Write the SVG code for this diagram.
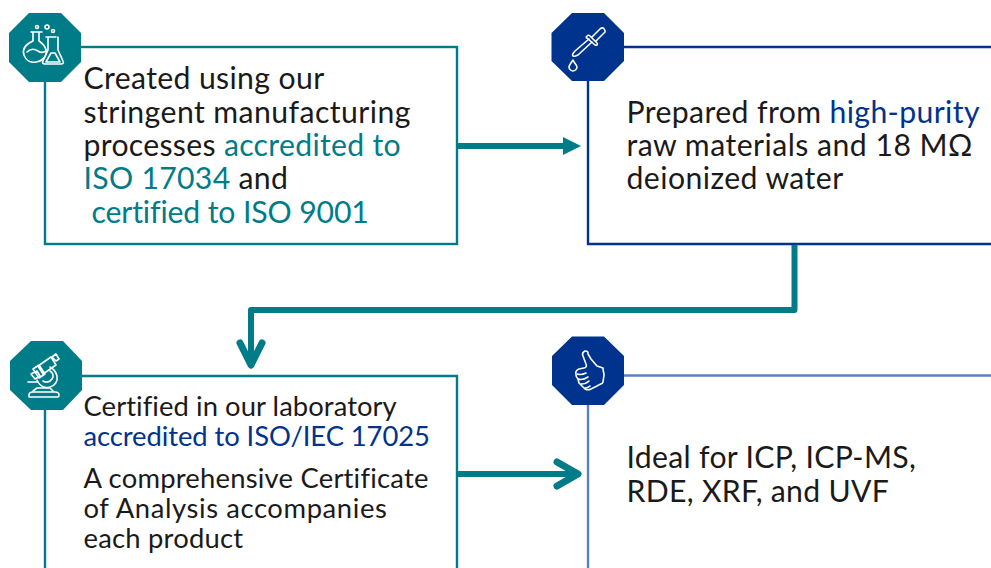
<svg xmlns="http://www.w3.org/2000/svg" width="991" height="568" viewBox="0 0 991 568">
<defs><style>
text{font-family:"Lato","Noto Sans",sans-serif;fill:#1a1a1a}
.big{font-size:30.2px;letter-spacing:.3px}
.mid{font-size:27.4px;letter-spacing:.22px}
.t{fill:#007c89}
.b{fill:#00338d}
.box{fill:#fff;stroke-width:2.4}
.ic{fill:none;stroke:#fff;stroke-width:1.6;stroke-linejoin:round;stroke-linecap:round}
.conn{fill:none;stroke:#007c89;stroke-width:6;stroke-linejoin:round}
.open{stroke-width:7;stroke-linecap:round}
</style></defs>
<rect width="991" height="568" fill="#fff"/>
<g id="node-manufacturing">
<rect class="box" x="45" y="47" width="412" height="197" stroke="#007c89"/>
<polygon points="29,13 61,13 81,33 81,62 61,82 29,82 9,62 9,33" fill="#007c89"/>
<g class="ic">
<path d="M31 32h11M33 32v9c-7 3-11 8-9 14 2 6 7 8 12 7 7-1 11-6 10-12-1-4-4-7-7-9V32"/>
<path d="M27 52c4-4 8-3 11-1s6 2 9-1"/>
<path d="M46 37h10M48 37v13l-5 11c-1 2 0 3 2 3h16c2 0 3-1 2-3l-5-11V37"/>
<path d="M46 62l5-9h4l5 9z"/>
<circle cx="37" cy="27" r="1.500"/><circle cx="47" cy="27" r="2"/><circle cx="53" cy="31" r="1.500"/>
</g>
<text class="big"><tspan x="83.500" y="88.700" style="letter-spacing:.36px">Created using our</tspan><tspan x="83.500" y="122.700" style="letter-spacing:.43px">stringent manufacturing</tspan><tspan x="83.500" y="155.700">processes <tspan class="t">accredited to</tspan></tspan><tspan x="83.500" y="188.700"><tspan class="t">ISO 17034</tspan> and</tspan><tspan x="91.500" y="222.700" class="t" style="letter-spacing:-.13px">certified to ISO 9001</tspan></text>
</g>
<g id="node-raw-materials">
<path class="box" d="M991 47H588V244H991" stroke="#00338d"/>
<polygon points="572,13 604,13 624,33 624,61 604,81 572,81 551.500,61 551.500,33" fill="#00338d"/>
<g class="ic">
<path d="M592 37l8-8c2-2 4-1 4 0 1 1 2 3 0 4l-8 8"/>
<path d="M587 36c1-1 2-1 3 0l7 7c1 1 0 3-2 2l-8-7c-1 0-1-1 0-2z"/>
<path d="M589 39l-14 12c-2 2-3 4-2 5 1 1 3 0 5-1l14-13"/>
<path d="M573 60c-2 3-4 5-4 7 0 2 2 4 4 4s4-2 4-4c0-2-3-4-4-7z"/>
</g>
<text class="big"><tspan x="626.500" y="122.700" style="letter-spacing:.38px">Prepared from <tspan class="b">high-purity</tspan></tspan><tspan x="626.500" y="155.700" style="letter-spacing:.47px">raw materials and 18 MΩ</tspan><tspan x="626.500" y="188.700" style="letter-spacing:.43px">deionized water</tspan></text>
</g>
<g id="node-laboratory">
<path class="box" d="M45 568V376H457V568" stroke="#007c89"/>
<polygon points="31,341 63,341 82,361 82,390 63,410 31,410 10,390 10,361" fill="#007c89"/>
<g class="ic">
<path d="M29 397h29c1 0 1-1 1-2 0-2-2-3-4-3H33c-2 0-4 1-4 3 0 1 0 2 0 2z"/>
<path d="M33 391l4-3h13l3 3"/>
<path d="M28 382h10c2 4 7 7 12 5 5-1 8-6 7-11-1-4-3-7-7-9"/>
<path d="M38 382c-1-1-1-1-1-2M43 381c3 2 7 1 9-2 2-3 1-6-2-8"/>
<path d="M38 366l13-9 5 8-13 9zM33 369l6-4 6 9-6 4zM31 374l6-3 3 5-5 3zM52 357l4-3 3 5-3 2z"/>
</g>
<text class="mid"><tspan x="83.500" y="416" style="letter-spacing:.07px">Certified in our laboratory</tspan><tspan x="83.500" y="446" class="b" style="letter-spacing:-.08px">accredited to ISO/IEC 17025</tspan><tspan x="83.500" y="488">A comprehensive Certificate</tspan><tspan x="83.500" y="518" style="letter-spacing:.61px">of Analysis accompanies</tspan><tspan x="83.500" y="548">each product</tspan></text>
</g>
<g id="node-ideal">
<path class="box" d="M991 375.500H588V568" stroke="#5b82c0"/>
<polygon points="572,336.500 604,336.500 624,356 624,385 604,405 572,405 552,385 552,356" fill="#00338d"/>
<g class="ic">
<path d="M585 351c-2 1-3 3-2 5l3 8c1 2 0 4-2 4l-5 1c-3 1-4 4-3 6 0 2 1 3 2 4l1 4 3 3 3 3c2 1 4 1 6 0l6-3c3-2 6-2 6-4l1-7c0-2-1-4-1-7l-6-2-6-7-3-5c0-2 0-3-3-3z"/>
<path d="M577 374c3 1 7 0 9-1M578 379c3 1 7 0 10-2M581 384c3 0 6-1 8-3M585 388c2 0 4-1 5-2"/>
</g>
<text class="big"><tspan x="626.500" y="467.700">Ideal for ICP, ICP-MS,</tspan><tspan x="626.500" y="501.700">RDE, XRF, and UVF</tspan></text>
</g>
<g id="connectors">
<path class="conn" d="M458 146H565"/>
<polygon points="563,137 581,146 563,155" fill="#007c89"/>
<path class="conn" d="M794.500 245V310H251V365"/>
<path class="conn open" d="M240 343L251 365L262 343"/>
<path class="conn" d="M458 474H577"/>
<path class="conn open" d="M557 462L578 474L557 486"/>
</g>
</svg>
